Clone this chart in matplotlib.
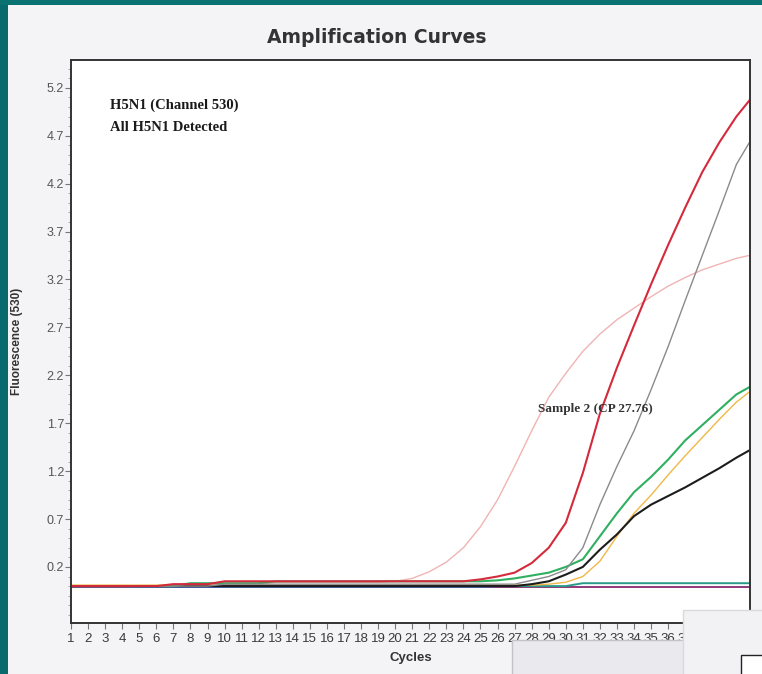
import matplotlib
matplotlib.use('Agg')
import matplotlib.pyplot as plt
from matplotlib.patches import Rectangle
from matplotlib.ticker import MultipleLocator

# cycle numbers and fluorescence
cycles = list(range(1, 42))

pink = [0.00]*6 + [0.02]*6 + [0.04]*7 + [0.05, 0.08, 0.15, 0.25, 0.40, 0.62, 0.90, 1.25,
        1.62, 1.97, 2.22, 2.45, 2.63, 2.78, 2.90, 3.02, 3.13, 3.22, 3.30, 3.36, 3.42, 3.46]
red = [0.00]*6 + [0.02]*3 + [0.05]*15 + [0.07, 0.10, 0.14, 0.24, 0.40, 0.66, 1.18, 1.80,
       2.28, 2.72, 3.15, 3.56, 3.95, 4.32, 4.63, 4.90, 5.12]
gray = [0.00]*9 + [0.02]*18 + [0.06, 0.10, 0.17, 0.40, 0.85, 1.25, 1.62, 2.05, 2.50,
        2.98, 3.45, 3.92, 4.40, 4.70]
green = [0.00]*7 + [0.03]*5 + [0.05]*13 + [0.06, 0.08, 0.11, 0.14, 0.20, 0.28, 0.52,
         0.76, 0.98, 1.14, 1.32, 1.52, 1.68, 1.84, 2.00, 2.10]
orange = [0.01]*28 + [0.02, 0.04, 0.10, 0.26, 0.52, 0.76, 0.95, 1.16, 1.36, 1.55, 1.74,
          1.92, 2.06]
black = [0.00]*27 + [0.02, 0.05, 0.12, 0.20, 0.38, 0.54, 0.73, 0.85, 0.94, 1.03, 1.13,
         1.23, 1.34, 1.44]
teal = [0.00]*30 + [0.03]*11
purple = [-0.01]*41
blue = [0.00]*4 + [-0.01]*37
magenta = [0.00]*25 + [-0.01]*16

yticks = [0.2, 0.7, 1.2, 1.7, 2.2, 2.7, 3.2, 3.7, 4.2, 4.7, 5.2]
xticks = list(range(1, 41))

paper = '#f4f4f6'
fig = plt.figure(figsize=(7.62, 6.74), dpi=100, facecolor=paper)

# teal slide border
fig.add_artist(Rectangle((0, 0), 0.0105, 1, transform=fig.transFigure,
                         facecolor='#086a6c', edgecolor='none', zorder=0))
fig.add_artist(Rectangle((0, 0.9926), 1, 0.0074, transform=fig.transFigure,
                         facecolor='#0b7272', edgecolor='none', zorder=0))

ax = fig.add_axes([0.0932, 0.0757, 0.8911, 0.8353])
ax.set_facecolor('white')

ax.plot(cycles, purple, color='#6a4f9e', lw=1.4)
ax.plot(cycles, blue, color='#4a64b0', lw=1.2)
ax.plot(cycles, magenta, color='#b0306a', lw=1.0)
ax.plot(cycles, teal, color='#2a9a88', lw=1.4)
ax.plot(cycles, pink, color='#f0b4b4', lw=1.0)
ax.plot(cycles, orange, color='#f0b848', lw=1.0)
ax.plot(cycles, black, color='#1c1c1c', lw=1.5)
ax.plot(cycles, green, color='#2fb060', lw=1.5)
ax.plot(cycles, gray, color='#8a8a8e', lw=1.0)
ax.plot(cycles, red, color='#d42a3c', lw=1.5)

ax.set_xlim(1, 40.8)
ax.set_ylim(-0.385, 5.49)
ax.set_yticks(yticks)
ax.set_yticklabels([f'{v:.1f}' for v in yticks])
ax.yaxis.set_minor_locator(MultipleLocator(0.1))
ax.set_xticks(xticks)
ax.set_xticklabels([str(c) for c in xticks])

ax.tick_params(axis='y', which='major', length=4, width=0.8, color='#777777',
               labelsize=9, labelcolor='#555555', pad=1)
ax.tick_params(axis='y', which='minor', length=2, width=0.5, color='#888888')
ax.tick_params(axis='x', which='major', length=4, width=0.8, color='#777777',
               labelsize=9.5, labelcolor='#3a3a3a', pad=3)
for lab in ax.get_xticklabels() + ax.get_yticklabels():
    lab.set_fontfamily('Liberation Sans')
for sp in ax.spines.values():
    sp.set_color('#333333')
    sp.set_linewidth(1.4)

ax.set_xlabel('Cycles', fontsize=9.5, fontweight='bold', family='Liberation Sans',
              color='#333333', labelpad=5)
ax.set_ylabel('Fluorescence (530)', fontsize=8.5, fontweight='bold',
              family='Liberation Sans', color='#333333')
ax.yaxis.set_label_coords(-0.071, 0.5)

fig.text(0.494, 0.945, 'Amplification Curves', ha='center', va='center',
         fontsize=13.5, fontweight='bold', family='DejaVu Sans', color='#333333')

ax.text(3.3, 5.02, 'H5N1 (Channel 530)', fontsize=10.5, fontweight='bold',
        family='Liberation Serif', va='center', color='#1a1a1a')
ax.text(3.3, 4.79, 'All H5N1 Detected', fontsize=10.5, fontweight='bold',
        family='Liberation Serif', va='center', color='#1a1a1a')
ax.text(28.4, 1.85, 'Sample 2 (CP 27.76)', fontsize=9.5, fontweight='bold',
        family='Liberation Serif', va='center', color='#333333')

# overlapping windows in the bottom-right corner of the screenshot
fig.add_artist(Rectangle((0.672, -0.01), 0.234, 0.0604, transform=fig.transFigure,
                         facecolor='#eaeaee', edgecolor='#c4c4c8', lw=1, zorder=10))
fig.add_artist(Rectangle((0.896, -0.01), 0.11, 0.105, transform=fig.transFigure,
                         facecolor='#f2f2f5', edgecolor='#dadade', lw=1, zorder=11))
fig.add_artist(Rectangle((0.972, -0.01), 0.04, 0.038, transform=fig.transFigure,
                         facecolor='white', edgecolor='#222222', lw=1, zorder=12))

fig.savefig('out.png', dpi=100, facecolor=paper)
